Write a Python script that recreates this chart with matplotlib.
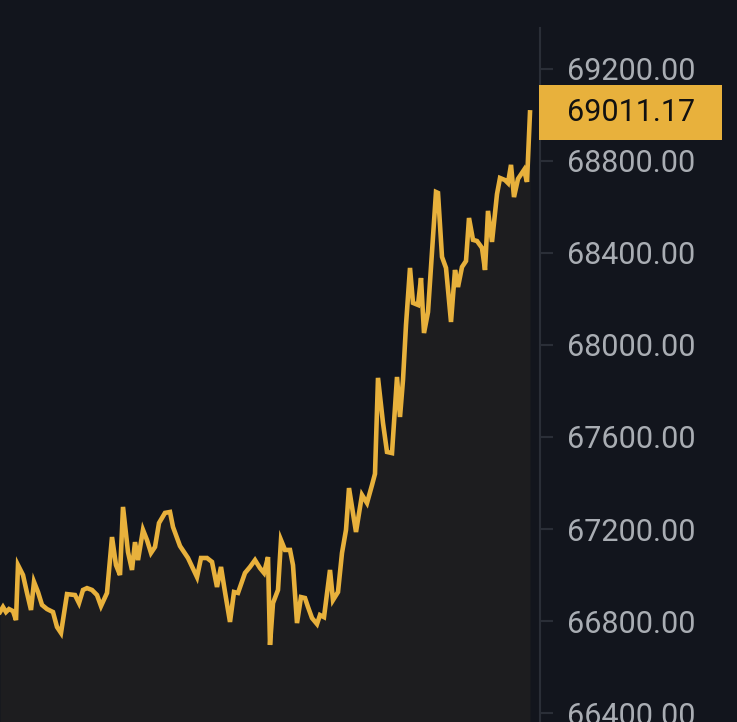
import matplotlib
matplotlib.use("Agg")
import matplotlib.pyplot as plt
from matplotlib.patches import Rectangle

# time offsets (arbitrary ticks) and prices
times = [0, 3, 6, 9, 13, 16, 18, 23, 27, 31, 34, 38, 42, 47, 53, 57, 61, 67, 75, 79,
         83, 87, 92, 97, 101, 107, 112, 116, 120, 123, 128, 132, 135, 138, 143, 147, 151, 155, 159, 165,
         170, 173, 180, 188, 197, 201, 207, 212, 217, 221, 225, 230, 234, 238, 245, 250, 255, 260, 264, 268,
         270, 273, 278, 281, 285, 290, 293, 297, 301, 305, 308, 312, 317, 320, 324, 330, 333, 338, 342, 346,
         349, 356, 362, 367, 372, 375, 378, 383, 387, 392, 397, 400, 403, 406, 410, 413, 418, 421, 424, 428,
         433, 436, 438, 442, 446, 451, 455, 458, 462, 466, 469, 473, 477, 482, 485, 488, 492, 497, 500, 505,
         508, 511, 514, 518, 524, 527, 530]
prices = [66839, 66861, 66839, 66852, 66843, 66804, 67043, 67000, 66922, 66848, 66970, 66926, 66870, 66852, 66839, 66774, 66748, 66917, 66913, 66878,
          66935, 66943, 66935, 66913, 66865, 66922, 67165, 67043, 67000, 67296, 67100, 67022, 67143, 67065, 67196, 67152, 67096, 67122, 67226, 67270,
          67274, 67209, 67126, 67074, 66991, 67074, 67074, 67057, 66948, 67035, 66926, 66796, 66926, 66922, 67009, 67035, 67065, 67030, 67009, 67078,
          66696, 66878, 66935, 67152, 67109, 67109, 67043, 66791, 66904, 66900, 66861, 66813, 66787, 66826, 66817, 67022, 66891, 66926, 67096, 67196,
          67378, 67187, 67348, 67313, 67391, 67440, 67857, 67661, 67535, 67530, 67861, 67687, 67848, 68087, 68335, 68183, 68174, 68291, 68052, 68143,
          68470, 68665, 68661, 68383, 68335, 68100, 68326, 68252, 68339, 68365, 68552, 68457, 68452, 68422, 68326, 68583, 68448, 68656, 68726, 68717,
          68704, 68783, 68643, 68722, 68761, 68709, 69011.17]
ytick_values = [66400, 66800, 67200, 67600, 68000, 68400, 68800, 69200]
last_price = prices[-1]

BG = "#12151d"
FILL = "#1d1d1f"
LINE = "#e8b13c"
AXIS = "#2a2e37"
LABEL = "#a9adb3"

W, H = 737, 722
fig = plt.figure(figsize=(W / 100, H / 100), dpi=100, facecolor=BG)
ax = fig.add_axes([0, 0, 540 / W, 694 / H])
ax.set_facecolor(BG)

ax.fill_between(times, prices, 66000, color=FILL, lw=0, zorder=1)
ax.plot(times, prices, color=LINE, lw=3.3, solid_joinstyle="miter", zorder=3)

ax.set_xlim(0, 540)
ax.set_ylim(66361, 69378)

for s in ["left", "top", "bottom"]:
    ax.spines[s].set_visible(False)
ax.spines["right"].set_color(AXIS)
ax.spines["right"].set_linewidth(1.5)
ax.set_xticks([])
ax.yaxis.tick_right()
ax.set_yticks(ytick_values)
ax.set_yticklabels([f"{v:.2f}" for v in ytick_values])
ax.tick_params(axis="y", colors=AXIS, length=9.5, width=1.5, pad=10,
               labelcolor=LABEL, labelsize=22)
for lab in ax.get_yticklabels():
    lab.set_fontfamily("Roboto")

# last price marker box
fig.canvas.draw()
y_disp = ax.transData.transform((0, last_price))[1]
box_h = 55
box = Rectangle((539 / W, (y_disp - box_h / 2) / H), (722 - 539) / W, box_h / H,
                transform=fig.transFigure, facecolor=LINE, edgecolor="none", zorder=5)
fig.patches.append(box)
ax.plot([1.0, 1.0 + 13 / 540], [last_price, last_price], color="#111111", lw=1.8,
        transform=ax.get_yaxis_transform(), clip_on=False, zorder=6)
fig.text(567 / W, y_disp / H, f"{last_price:.2f}", color="#111111", fontsize=22,
         fontfamily="Roboto", va="center", ha="left", zorder=7)

fig.savefig("out.png", dpi=100, facecolor=BG)
